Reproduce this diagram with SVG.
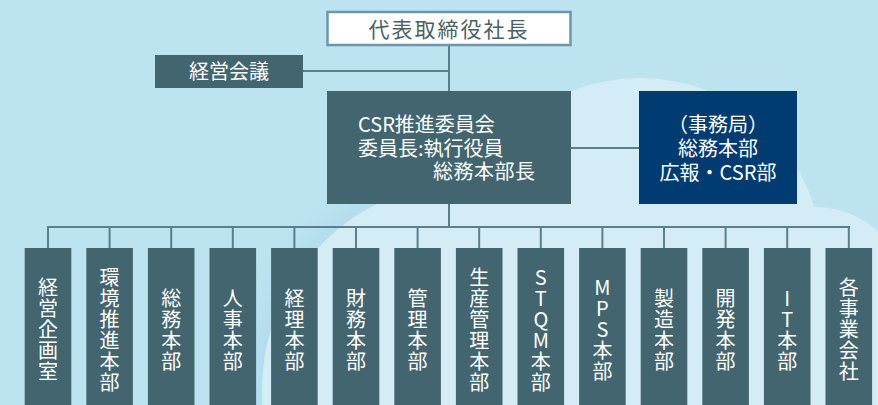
<svg xmlns="http://www.w3.org/2000/svg" width="878" height="405" viewBox="0 0 878 405">
<style>
.t{font-family:"Noto Sans CJK JP","Noto Sans",sans-serif;}
.node{fill:#436570;}
.wt{fill:#ffffff;font-size:20px;}
.vt{fill:#ffffff;font-size:20px;writing-mode:vertical-rl;text-orientation:upright;letter-spacing:1px;}
.conn line{stroke:#5a7e8a;stroke-width:2;}
</style>
<defs>
<radialGradient id="shade" cx="470" cy="390" r="260" gradientUnits="userSpaceOnUse">
<stop offset="0.78" stop-color="#a9d8ea"/>
<stop offset="1" stop-color="#bde3f0" stop-opacity="0"/>
</radialGradient>
</defs>
<rect x="0" y="0" width="878" height="405" fill="#bde3f0"/>
<circle cx="470" cy="390" r="250" fill="url(#shade)" opacity="0.6"/>
<g id="cloud" fill="#d3ecf5">
<circle cx="470" cy="390" r="208"/>
<circle cx="640" cy="260" r="182"/>
<circle cx="815" cy="300" r="93"/>
<rect x="262" y="390" width="616" height="15"/>
<rect x="640" y="300" width="238" height="105"/>
</g>
<g id="connectors" class="conn">
<line x1="449" y1="45" x2="449" y2="91"/>
<line x1="303" y1="71" x2="449" y2="71"/>
<line x1="571" y1="148" x2="639" y2="148"/>
<line x1="449" y1="204" x2="449" y2="227"/>
<line x1="47" y1="227" x2="850" y2="227"/>
<line x1="48" y1="227" x2="48" y2="248"/>
<line x1="109.6" y1="227" x2="109.6" y2="248"/>
<line x1="171.2" y1="227" x2="171.2" y2="248"/>
<line x1="232.8" y1="227" x2="232.8" y2="248"/>
<line x1="294.4" y1="227" x2="294.4" y2="248"/>
<line x1="356" y1="227" x2="356" y2="248"/>
<line x1="417.6" y1="227" x2="417.6" y2="248"/>
<line x1="479.2" y1="227" x2="479.2" y2="248"/>
<line x1="540.8" y1="227" x2="540.8" y2="248"/>
<line x1="602.4" y1="227" x2="602.4" y2="248"/>
<line x1="664" y1="227" x2="664" y2="248"/>
<line x1="725.6" y1="227" x2="725.6" y2="248"/>
<line x1="787.2" y1="227" x2="787.2" y2="248"/>
<line x1="848.8" y1="227" x2="848.8" y2="248"/>
</g>
<g id="president">
<rect x="327.5" y="12" width="243" height="33" fill="#ffffff" stroke="#6a98a9" stroke-width="2.5"/>
<text class="t" x="449" y="36.5" text-anchor="middle" font-size="21" letter-spacing="2" fill="#4c5f66">代表取締役社長</text>
</g>
<g id="keiei-kaigi">
<rect class="node" x="155" y="55" width="148" height="33"/>
<text class="t wt" x="229" y="78.5" text-anchor="middle">経営会議</text>
</g>
<g id="csr-committee">
<rect class="node" x="327" y="91" width="244" height="113"/>
<text class="t wt"><tspan x="358" y="132">CSR推進委員会</tspan><tspan x="358" y="155.5">委員長:執行役員</tspan><tspan x="433" y="179" letter-spacing="0.5">総務本部長</tspan></text>
</g>
<g id="secretariat">
<rect x="639" y="91" width="158" height="113" fill="#003c71"/>
<text class="t wt" text-anchor="middle"><tspan x="718" y="132">（事務局）</tspan><tspan x="718" y="156">総務本部</tspan><tspan x="718" y="180">広報・CSR部</tspan></text>
</g>
<g id="d1"><rect class="node" x="24.7" y="248" width="46.6" height="157"/><text class="t vt" x="48" y="330" text-anchor="middle">経営企画室</text></g>
<g id="d2"><rect class="node" x="86.3" y="248" width="46.6" height="157"/><text class="t vt" x="109.6" y="330" text-anchor="middle">環境推進本部</text></g>
<g id="d3"><rect class="node" x="147.9" y="248" width="46.6" height="157"/><text class="t vt" x="171.2" y="330" text-anchor="middle">総務本部</text></g>
<g id="d4"><rect class="node" x="209.5" y="248" width="46.6" height="157"/><text class="t vt" x="232.8" y="330" text-anchor="middle">人事本部</text></g>
<g id="d5"><rect class="node" x="271.1" y="248" width="46.6" height="157"/><text class="t vt" x="294.4" y="330" text-anchor="middle">経理本部</text></g>
<g id="d6"><rect class="node" x="332.7" y="248" width="46.6" height="157"/><text class="t vt" x="356" y="330" text-anchor="middle">財務本部</text></g>
<g id="d7"><rect class="node" x="394.3" y="248" width="46.6" height="157"/><text class="t vt" x="417.6" y="330" text-anchor="middle">管理本部</text></g>
<g id="d8"><rect class="node" x="455.9" y="248" width="46.6" height="157"/><text class="t vt" x="479.2" y="330" text-anchor="middle">生産管理本部</text></g>
<g id="d9"><rect class="node" x="517.5" y="248" width="46.6" height="157"/><text class="t vt" x="540.8" y="330" text-anchor="middle">STQM本部</text></g>
<g id="d10"><rect class="node" x="579.1" y="248" width="46.6" height="157"/><text class="t vt" x="602.4" y="330" text-anchor="middle">MPS本部</text></g>
<g id="d11"><rect class="node" x="640.7" y="248" width="46.6" height="157"/><text class="t vt" x="664" y="330" text-anchor="middle">製造本部</text></g>
<g id="d12"><rect class="node" x="702.3" y="248" width="46.6" height="157"/><text class="t vt" x="725.6" y="330" text-anchor="middle">開発本部</text></g>
<g id="d13"><rect class="node" x="763.9" y="248" width="46.6" height="157"/><text class="t vt" x="787.2" y="330" text-anchor="middle">IT本部</text></g>
<g id="d14"><rect class="node" x="825.5" y="248" width="46.6" height="157"/><text class="t vt" x="848.8" y="330" text-anchor="middle">各事業会社</text></g>
</svg>
